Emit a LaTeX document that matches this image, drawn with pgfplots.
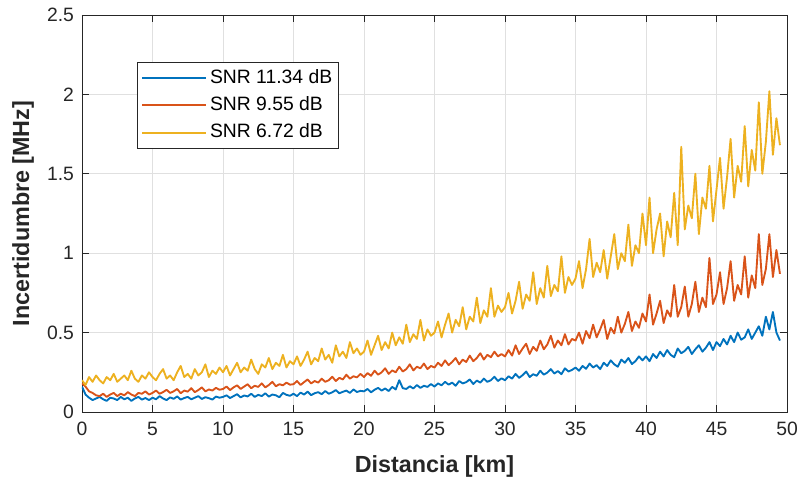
\documentclass[border=0pt]{standalone}
\usepackage{pgfplots}
\pgfplotsset{compat=1.18}
\usepackage{fontspec}
\setmainfont{Liberation Sans}
\definecolor{mblue}{rgb}{0,0.447,0.741}
\definecolor{mred}{rgb}{0.85,0.325,0.098}
\definecolor{myel}{rgb}{0.929,0.694,0.125}
\definecolor{axgray}{rgb}{0.15,0.15,0.15}
\begin{document}
\begin{tikzpicture}
\begin{axis}[
  scale only axis, width=528.75pt, height=297.75pt,
  xmin=0, xmax=50, ymin=0, ymax=2.5,
  xtick={0,5,...,50}, ytick={0,0.5,1,1.5,2,2.5},
  yticklabels={0,0.5,1,1.5,2,2.5},
  tick align=inside, tick pos=both,
  major tick length=5pt,
  grid=major, grid style={color=black!12, line width=0.6pt},
  axis line style={axgray, line width=0.6pt},
  tick style={axgray, line width=0.6pt},
  ticklabel style={font=\fontsize{14.5}{17}\selectfont, text=axgray},
  xticklabel style={yshift=-4pt},
  yticklabel style={xshift=-2.5pt},
  /pgf/number format/assume math mode=true,
  xlabel={\textbf{Distancia [km]}}, ylabel={\textbf{Incertidumbre [MHz]}},
  every axis x label/.style={at={(axis description cs:0.5,-0.136)}, anchor=center,
    font=\fontsize{17.5}{20}\selectfont, text=axgray},
  every axis y label/.style={at={(axis description cs:-0.0837,0.5)}, rotate=90, anchor=center,
    font=\fontsize{17.5}{20}\selectfont, text=axgray},
  legend style={at={(0.078,0.882)}, anchor=north west, draw=axgray, line width=0.6pt,
    font=\fontsize{14.5}{17}\selectfont, row sep=2.6pt, inner xsep=3pt, inner ysep=2.6pt,
    nodes={text height=11pt, text depth=3pt, inner sep=2pt}},
  legend cell align=left,
  legend image code/.code={\draw[#1, line width=1.5pt] (0pt,0pt) -- (48pt,0pt);},
  every axis plot/.append style={line width=1.4pt, line join=round},
]
\addplot[mblue] coordinates {
(0,0.16)(0.25,0.11)(0.5,0.09)(0.75,0.075)(1,0.085)(1.25,0.095)(1.5,0.08)(1.75,0.07)(2,0.09)(2.25,0.085)(2.5,0.075)(2.75,0.095)(3,0.08)(3.25,0.09)(3.5,0.07)(3.75,0.085)(4,0.095)(4.25,0.078)(4.5,0.088)(4.75,0.075)
(5,0.09)(5.25,0.08)(5.5,0.1)(5.75,0.085)(6,0.075)(6.25,0.092)(6.5,0.083)(6.75,0.098)(7,0.078)(7.25,0.088)(7.5,0.095)(7.75,0.08)(8,0.09)(8.25,0.1)(8.5,0.082)(8.75,0.093)(9,0.087)(9.25,0.078)(9.5,0.097)(9.75,0.09)
(10,0.095)(10.25,0.105)(10.5,0.088)(10.75,0.1)(11,0.112)(11.25,0.092)(11.5,0.104)(11.75,0.098)(12,0.115)(12.25,0.095)(12.5,0.108)(12.75,0.1)(13,0.118)(13.25,0.097)(13.5,0.11)(13.75,0.105)(14,0.093)(14.25,0.12)(14.5,0.108)(14.75,0.102)
(15,0.115)(15.25,0.1)(15.5,0.122)(15.75,0.11)(16,0.128)(16.25,0.106)(16.5,0.118)(16.75,0.125)(17,0.112)(17.25,0.132)(17.5,0.115)(17.75,0.124)(18,0.138)(18.25,0.118)(18.5,0.127)(18.75,0.135)(19,0.12)(19.25,0.142)(19.5,0.126)(19.75,0.133)
(20,0.13)(20.25,0.145)(20.5,0.124)(20.75,0.14)(21,0.152)(21.25,0.135)(21.5,0.148)(21.75,0.132)(22,0.158)(22.25,0.142)(22.5,0.2)(22.75,0.15)(23,0.145)(23.25,0.162)(23.5,0.148)(23.75,0.17)(24,0.152)(24.25,0.165)(24.5,0.158)(24.75,0.176)
(25,0.16)(25.25,0.18)(25.5,0.168)(25.75,0.19)(26,0.172)(26.25,0.185)(26.5,0.165)(26.75,0.195)(27,0.18)(27.25,0.188)(27.5,0.205)(27.75,0.176)(28,0.198)(28.25,0.185)(28.5,0.21)(28.75,0.19)(29,0.2)(29.25,0.222)(29.5,0.195)(29.75,0.212)
(30,0.2)(30.25,0.225)(30.5,0.21)(30.75,0.24)(31,0.215)(31.25,0.232)(31.5,0.255)(31.75,0.22)(32,0.238)(32.25,0.228)(32.5,0.26)(32.75,0.235)(33,0.248)(33.25,0.27)(33.5,0.242)(33.75,0.258)(34,0.238)(34.25,0.275)(34.5,0.255)(34.75,0.265)
(35,0.28)(35.25,0.26)(35.5,0.29)(35.75,0.272)(36,0.305)(36.25,0.28)(36.5,0.295)(36.75,0.27)(37,0.31)(37.25,0.29)(37.5,0.325)(37.75,0.3)(38,0.285)(38.25,0.33)(38.5,0.31)(38.75,0.34)(39,0.302)(39.25,0.32)(39.5,0.35)(39.75,0.325)
(40,0.35)(40.25,0.32)(40.5,0.365)(40.75,0.34)(41,0.38)(41.25,0.35)(41.5,0.39)(41.75,0.36)(42,0.345)(42.25,0.4)(42.5,0.37)(42.75,0.385)(43,0.41)(43.25,0.365)(43.5,0.395)(43.75,0.42)(44,0.38)(44.25,0.405)(44.5,0.44)(44.75,0.39)
(45,0.44)(45.25,0.415)(45.5,0.46)(45.75,0.425)(46,0.48)(46.25,0.44)(46.5,0.5)(46.75,0.455)(47,0.47)(47.25,0.52)(47.5,0.46)(47.75,0.5)(48,0.54)(48.25,0.48)(48.5,0.6)(48.75,0.52)(49,0.63)(49.25,0.5)(49.5,0.45)
};
\addlegendentry{SNR 11.34 dB}
\addplot[mred] coordinates {
(0,0.18)(0.25,0.16)(0.5,0.13)(0.75,0.12)(1,0.105)(1.25,0.1)(1.5,0.115)(1.75,0.095)(2,0.11)(2.25,0.12)(2.5,0.1)(2.75,0.115)(3,0.105)(3.25,0.125)(3.5,0.11)(3.75,0.1)(4,0.12)(4.25,0.115)(4.5,0.13)(4.75,0.11)
(5,0.12)(5.25,0.135)(5.5,0.115)(5.75,0.125)(6,0.14)(6.25,0.12)(6.5,0.13)(6.75,0.145)(7,0.118)(7.25,0.135)(7.5,0.128)(7.75,0.15)(8,0.125)(8.25,0.138)(8.5,0.155)(8.75,0.13)(9,0.142)(9.25,0.135)(9.5,0.152)(9.75,0.14)
(10,0.145)(10.25,0.16)(10.5,0.138)(10.75,0.155)(11,0.168)(11.25,0.145)(11.5,0.16)(11.75,0.175)(12,0.15)(12.25,0.165)(12.5,0.158)(12.75,0.18)(13,0.155)(13.25,0.17)(13.5,0.19)(13.75,0.162)(14,0.175)(14.25,0.168)(14.5,0.185)(14.75,0.172)
(15,0.175)(15.25,0.195)(15.5,0.17)(15.75,0.188)(16,0.205)(16.25,0.18)(16.5,0.195)(16.75,0.185)(17,0.21)(17.25,0.19)(17.5,0.2)(17.75,0.222)(18,0.195)(18.25,0.215)(18.5,0.205)(18.75,0.235)(19,0.21)(19.25,0.225)(19.5,0.218)(19.75,0.24)
(20,0.22)(20.25,0.245)(20.5,0.228)(20.75,0.26)(21,0.235)(21.25,0.25)(21.5,0.275)(21.75,0.24)(22,0.262)(22.25,0.25)(22.5,0.285)(22.75,0.255)(23,0.27)(23.25,0.3)(23.5,0.262)(23.75,0.285)(24,0.275)(24.25,0.305)(24.5,0.27)(24.75,0.29)
(25,0.28)(25.25,0.31)(25.5,0.29)(25.75,0.325)(26,0.295)(26.25,0.315)(26.5,0.34)(26.75,0.3)(27,0.33)(27.25,0.315)(27.5,0.355)(27.75,0.32)(28,0.34)(28.25,0.37)(28.5,0.33)(28.75,0.36)(29,0.345)(29.25,0.38)(29.5,0.35)(29.75,0.365)
(30,0.35)(30.25,0.39)(30.5,0.355)(30.75,0.42)(31,0.365)(31.25,0.4)(31.5,0.43)(31.75,0.365)(32,0.41)(32.25,0.385)(32.5,0.45)(32.75,0.395)(33,0.425)(33.25,0.48)(33.5,0.405)(33.75,0.45)(34,0.42)(34.25,0.49)(34.5,0.425)(34.75,0.46)
(35,0.45)(35.25,0.5)(35.5,0.43)(35.75,0.51)(36,0.465)(36.25,0.55)(36.5,0.47)(36.75,0.52)(37,0.58)(37.25,0.46)(37.5,0.53)(37.75,0.495)(38,0.6)(38.25,0.5)(38.5,0.555)(38.75,0.63)(39,0.51)(39.25,0.57)(39.5,0.53)(39.75,0.62)
(40,0.57)(40.25,0.74)(40.5,0.55)(40.75,0.62)(41,0.7)(41.25,0.56)(41.5,0.64)(41.75,0.6)(42,0.8)(42.25,0.6)(42.5,0.66)(42.75,0.79)(43,0.6)(43.25,0.68)(43.5,0.82)(43.75,0.63)(44,0.72)(44.25,0.66)(44.5,0.97)(44.75,0.68)
(45,0.74)(45.25,0.88)(45.5,0.68)(45.75,0.78)(46,0.95)(46.25,0.7)(46.5,0.8)(46.75,0.74)(47,0.98)(47.25,0.72)(47.5,0.86)(47.75,0.78)(48,1.12)(48.25,0.8)(48.5,0.9)(48.75,1.12)(49,0.85)(49.25,1.02)(49.5,0.87)
};
\addlegendentry{SNR 9.55 dB}
\addplot[myel] coordinates {
(0,0.2)(0.25,0.17)(0.5,0.22)(0.75,0.19)(1,0.23)(1.25,0.2)(1.5,0.18)(1.75,0.22)(2,0.2)(2.25,0.24)(2.5,0.19)(2.75,0.21)(3,0.23)(3.25,0.2)(3.5,0.26)(3.75,0.21)(4,0.19)(4.25,0.23)(4.5,0.21)(4.75,0.25)
(5,0.22)(5.25,0.2)(5.5,0.24)(5.75,0.27)(6,0.21)(6.25,0.23)(6.5,0.2)(6.75,0.25)(7,0.29)(7.25,0.22)(7.5,0.24)(7.75,0.21)(8,0.27)(8.25,0.23)(8.5,0.25)(8.75,0.3)(9,0.22)(9.25,0.26)(9.5,0.24)(9.75,0.28)
(10,0.25)(10.25,0.29)(10.5,0.23)(10.75,0.27)(11,0.31)(11.25,0.25)(11.5,0.28)(11.75,0.26)(12,0.33)(12.25,0.27)(12.5,0.24)(12.75,0.3)(13,0.28)(13.25,0.34)(13.5,0.27)(13.75,0.31)(14,0.29)(14.25,0.36)(14.5,0.28)(14.75,0.32)
(15,0.3)(15.25,0.35)(15.5,0.29)(15.75,0.33)(16,0.38)(16.25,0.3)(16.5,0.34)(16.75,0.32)(17,0.4)(17.25,0.33)(17.5,0.36)(17.75,0.31)(18,0.42)(18.25,0.35)(18.5,0.38)(18.75,0.34)(19,0.44)(19.25,0.37)(19.5,0.4)(19.75,0.36)
(20,0.38)(20.25,0.45)(20.5,0.36)(20.75,0.42)(21,0.48)(21.25,0.39)(21.5,0.44)(21.75,0.4)(22,0.5)(22.25,0.42)(22.5,0.47)(22.75,0.43)(23,0.55)(23.25,0.44)(23.5,0.49)(23.75,0.46)(24,0.58)(24.25,0.45)(24.5,0.52)(24.75,0.48)
(25,0.5)(25.25,0.57)(25.5,0.47)(25.75,0.55)(26,0.62)(26.25,0.5)(26.5,0.58)(26.75,0.54)(27,0.66)(27.25,0.52)(27.5,0.6)(27.75,0.57)(28,0.72)(28.25,0.56)(28.5,0.64)(28.75,0.6)(29,0.78)(29.25,0.6)(29.5,0.67)(29.75,0.63)
(30,0.66)(30.25,0.75)(30.5,0.62)(30.75,0.7)(31,0.82)(31.25,0.65)(31.5,0.74)(31.75,0.7)(32,0.88)(32.25,0.68)(32.5,0.78)(32.75,0.72)(33,0.92)(33.25,0.73)(33.5,0.8)(33.75,0.76)(34,0.98)(34.25,0.75)(34.5,0.85)(34.75,0.8)
(35,0.84)(35.25,0.95)(35.5,0.78)(35.75,0.9)(36,1.09)(36.25,0.85)(36.5,0.94)(36.75,0.88)(37,1.02)(37.25,0.84)(37.5,0.98)(37.75,1.12)(38,0.9)(38.25,1.0)(38.5,0.95)(38.75,1.18)(39,0.92)(39.25,1.05)(39.5,1.0)(39.75,1.25)
(40,1.05)(40.25,1.35)(40.5,1.0)(40.75,1.15)(41,1.25)(41.25,0.98)(41.5,1.2)(41.75,1.1)(42,1.38)(42.25,1.05)(42.5,1.67)(42.75,1.15)(43,1.3)(43.25,1.22)(43.5,1.5)(43.75,1.12)(44,1.35)(44.25,1.28)(44.5,1.55)(44.75,1.2)
(45,1.4)(45.25,1.6)(45.5,1.28)(45.75,1.48)(46,1.72)(46.25,1.35)(46.5,1.55)(46.75,1.45)(47,1.8)(47.25,1.42)(47.5,1.65)(47.75,1.52)(48,1.95)(48.25,1.5)(48.5,1.7)(48.75,2.02)(49,1.62)(49.25,1.85)(49.5,1.68)
};
\addlegendentry{SNR 6.72 dB}
\end{axis}
\pgfresetboundingbox
\path[use as bounding box] ([shift={(-61.5pt,-51pt)}]current axis.south west) rectangle ([shift={(9pt,11.25pt)}]current axis.north east);
\end{tikzpicture}
\end{document}
